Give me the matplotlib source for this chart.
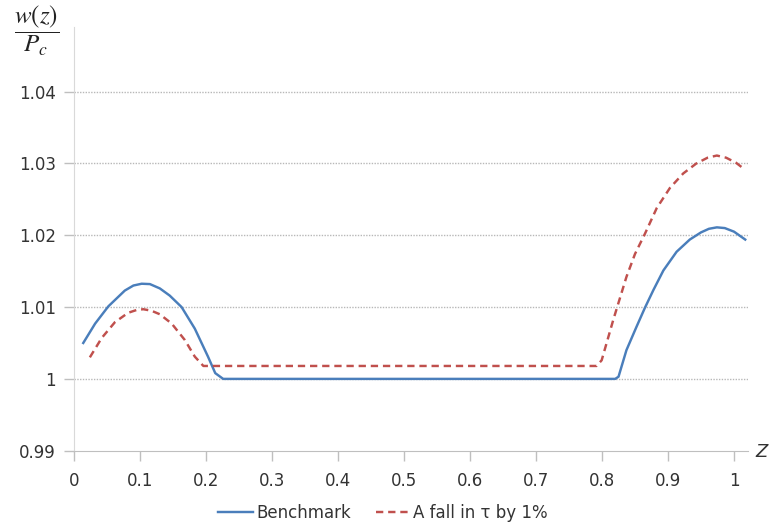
import matplotlib
matplotlib.use("Agg")
import matplotlib.pyplot as plt

plt.rcParams['font.family'] = ['DejaVu Sans']
plt.rcParams['mathtext.fontset'] = 'stix'

# values
z_bench = [0.014, 0.032, 0.052, 0.077, 0.090, 0.1025, 0.115, 0.130, 0.145, 0.163, 0.183,
           0.203, 0.214, 0.226, 0.820, 0.825, 0.837, 0.852, 0.865, 0.878, 0.893,
           0.913, 0.933, 0.950, 0.962, 0.974, 0.986, 1.000, 1.017]
w_bench = [1.0050, 1.0077, 1.0101, 1.0123, 1.0130, 1.01325, 1.0132, 1.0126, 1.0116, 1.0100, 1.0070,
           1.0031, 1.0008, 1.0000, 1.0000, 1.0003, 1.0040, 1.0072, 1.0099, 1.0124, 1.0151,
           1.0177, 1.0194, 1.0204, 1.0209, 1.0211, 1.0210, 1.0205, 1.0194]

z_fall = [0.024, 0.042, 0.062, 0.082, 0.095, 0.105, 0.117, 0.130, 0.148, 0.168, 0.183, 0.196,
          0.792, 0.7995, 0.807, 0.817, 0.825, 0.837, 0.850, 0.865, 0.883, 0.903,
          0.923, 0.943, 0.960, 0.974, 0.988, 1.003, 1.017]
w_fall = [1.0030, 1.0057, 1.0079, 1.0092, 1.0096, 1.0097, 1.0095, 1.0090, 1.0077, 1.0054, 1.0031, 1.0018,
          1.0018, 1.0026, 1.0050, 1.0082, 1.0106, 1.0142, 1.0174, 1.0202, 1.0238, 1.0266,
          1.0286, 1.0300, 1.0308, 1.0311, 1.0308, 1.0301, 1.0291]

x_ticks = [0, 0.1, 0.2, 0.3, 0.4, 0.5, 0.6, 0.7, 0.8, 0.9, 1]
x_labels = ['0', '0.1', '0.2', '0.3', '0.4', '0.5', '0.6', '0.7', '0.8', '0.9', '1']
y_ticks = [0.99, 1.0, 1.01, 1.02, 1.03, 1.04]
y_labels = ['0.99', '1', '1.01', '1.02', '1.03', '1.04']

fig = plt.figure(figsize=(7.71, 5.29), dpi=100)
ax = fig.add_axes([0.096, 0.148, 0.874, 0.801])

text_col = '#333333'
axis_col = '#bfbfbf'

ax.plot(z_bench, w_bench, color='#4a7ebb', lw=1.75, label='Benchmark')
ax.plot(z_fall, w_fall, color='#c0504d', lw=1.75, linestyle=(0, (3, 2)),
        label='A fall in τ by 1%')

ax.set_xlim(0, 1.021)
ax.set_ylim(0.99, 1.049)
ax.set_xticks(x_ticks)
ax.set_xticklabels(x_labels)
ax.set_yticks(y_ticks)
ax.set_yticklabels(y_labels)

for yv in y_ticks[1:]:
    ax.axhline(yv, color='#b8b8b8', lw=1, linestyle=(0, (1, 1)), zorder=0)

for s in ['top', 'right']:
    ax.spines[s].set_visible(False)
ax.spines['left'].set_color('#d9d9d9')
ax.spines['bottom'].set_color(axis_col)
ax.tick_params(axis='both', colors=axis_col, labelcolor=text_col, labelsize=12,
               length=7, width=1, direction='out')
ax.tick_params(axis='x', pad=8)
ax.tick_params(axis='y', pad=6)

fig.text(37 / 771, 1 - 31 / 529, r'$\dfrac{w(z)}{P_c}$', fontsize=18,
         ha='center', va='center', color='#222222')
fig.text(762 / 771, 1 - 452 / 529, 'Z', fontsize=13, style='italic',
         ha='center', va='center', color='#333333')

leg = fig.legend(loc='center', bbox_to_anchor=(0.497, 0.030), ncol=2, frameon=False,
                 fontsize=12, handlelength=2.1, handletextpad=0.15, columnspacing=1.5)
for t in leg.get_texts():
    t.set_color(text_col)

fig.savefig('out.png', dpi=100)
